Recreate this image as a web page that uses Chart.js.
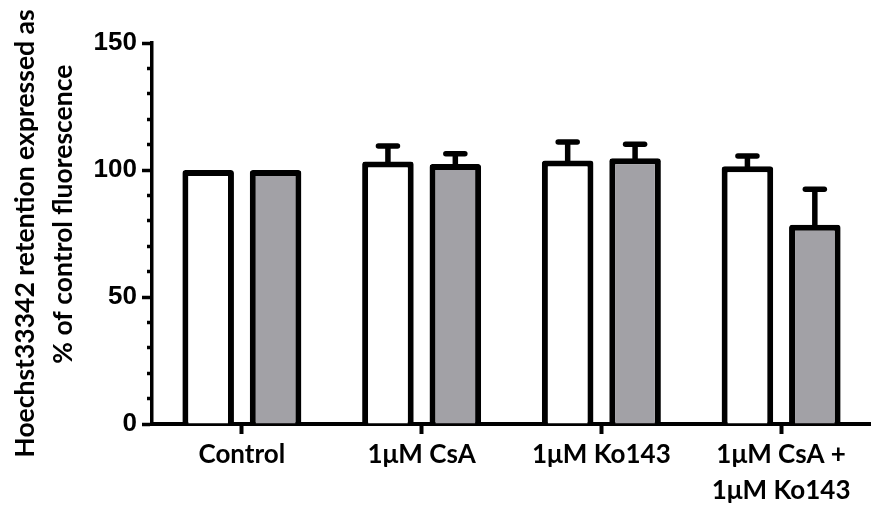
<!DOCTYPE html>
<html><head><meta charset="utf-8">
<script src="https://cdn.jsdelivr.net/npm/chart.js@4"></script>
<style>html,body{margin:0;padding:0;background:#fff}#wrap{width:871px;height:507px;position:relative}</style>
</head><body><div id="wrap"><canvas id="c"></canvas></div>
<script>
const categories = ['Control', '1\u03bcM CsA', '1\u03bcM Ko143', ['1\u03bcM CsA +', '1\u03bcM Ko143']];
const whiteMeans = [100, 103.3, 103.7, 101.5];
const whiteErr = [0, 6.1, 7.3, 4.0];
const grayMeans = [100, 102.4, 104.6, 78.4];
const grayErr = [0, 4.0, 5.5, 14.0];
const yTickLabels = ['0', '50', '100', '150'];
const yTitle = ['Hoechst33342 retention expressed as', '      % of control fluorescence'];

const errorBars = {
  id: 'errorBars',
  afterDatasetsDraw(chart) {
    const ctx = chart.ctx, y = chart.scales.y;
    chart.data.datasets.forEach((ds, di) => {
      const meta = chart.getDatasetMeta(di);
      meta.data.forEach((bar, i) => {
        const e = ds.errors[i];
        if (!e) return;
        const top = y.getPixelForValue(ds.data[i] + e);
        ctx.save();
        ctx.strokeStyle = '#000';
        ctx.lineWidth = 5.5;
        ctx.beginPath(); ctx.moveTo(bar.x, bar.y + 3); ctx.lineTo(bar.x, top); ctx.stroke();
        ctx.lineCap = 'round';
        ctx.beginPath(); ctx.moveTo(bar.x - 9.5, top); ctx.lineTo(bar.x + 9.5, top); ctx.stroke();
        ctx.restore();
      });
    });
  }
};

new Chart(document.getElementById('c'), {
  type: 'bar',
  data: {
    labels: categories,
    datasets: [
      { label: 'Series A', data: whiteMeans, errors: whiteErr, backgroundColor: '#ffffff', borderColor: '#000', borderWidth: 6, borderSkipped: 'start', borderRadius: {topLeft: 3, topRight: 3}, barPercentage: 0.765, categoryPercentage: 0.75 },
      { label: 'Series B', data: grayMeans, errors: grayErr, backgroundColor: '#a2a1a6', borderColor: '#000', borderWidth: 6, borderSkipped: 'start', borderRadius: {topLeft: 3, topRight: 3}, barPercentage: 0.765, categoryPercentage: 0.75 }
    ]
  },
  plugins: [errorBars],
  options: {
    responsive: true, maintainAspectRatio: false, animation: false,
    layout: { padding: { top: 43, right: -8, bottom: 0, left: 0 } },
    plugins: { legend: { display: false }, tooltip: { enabled: false } },
    scales: {
      x: {
        grid: { offset: false, drawOnChartArea: false, tickLength: 10, tickWidth: 4, tickColor: '#000' },
        border: { color: '#000', width: 4 },
        ticks: { color: '#000', font: { family: 'Lato', weight: 'bold', size: 26, lineHeight: 1.385 }, padding: 3, maxRotation: 0, autoSkip: false },
        afterFit: s => { s.height = 83; }
      },
      y: {
        min: 0, max: 150,
        ticks: { stepSize: 10, autoSkip: false, callback: v => yTickLabels.includes(String(v)) ? String(v) : '', color: '#000', font: { family: 'Liberation Sans', weight: 'bold', size: 26 }, padding: 5 },
        grid: { drawOnChartArea: false, tickLength: 10, tickWidth: 3.5, tickColor: '#000', tickBorderDash: [10, 10], tickBorderDashOffset: c => (c.tick && c.tick.value % 50 === 0) ? 0 : 15 },
        border: { color: '#000', width: 3.5 },
        title: { display: true, text: yTitle, color: '#000', font: { family: 'Lato', weight: 'bold', size: 26.5, lineHeight: 1.434 }, padding: { top: 6, bottom: 0 } },
        afterFit: s => { s.width = 152; }
      }
    }
  }
});
</script></body></html>
